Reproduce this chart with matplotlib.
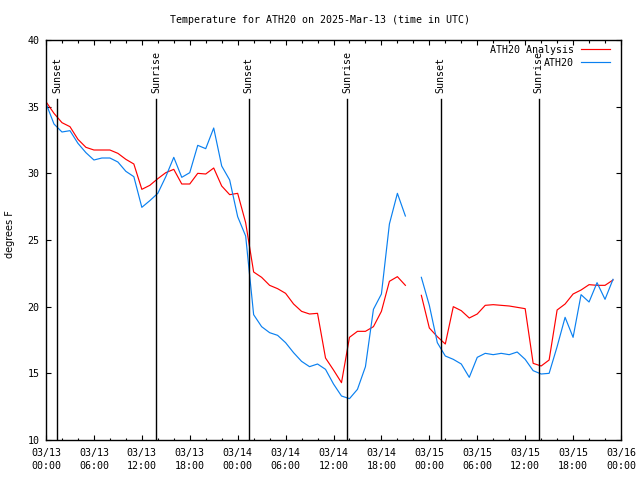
import numpy as np
import pandas as pd
import matplotlib
matplotlib.use("Agg")
import matplotlib.pyplot as plt
import matplotlib.dates as mdates

title = "Temperature for ATH20 on 2025-Mar-13 (time in UTC)"
ylabel = "degrees F"

times = pd.date_range("2025-03-13 00:00", periods=72, freq="h")

analysis = [35.37, 34.5, 33.8, 33.5, 32.55, 31.95, 31.75, 31.75, 31.75, 31.5,
            31.05, 30.7, 28.8, 29.1, 29.6, 30.05, 30.3, 29.2, 29.2, 30.0,
            29.95, 30.4, 29.05, 28.4, 28.5, 26.3, 22.6, 22.2, 21.6, 21.35,
            21.0, 20.2, 19.65, 19.45, 19.5, 16.15, 15.25, 14.3, 17.7, 18.15,
            18.15, 18.5, 19.65, 21.9, 22.25, 21.6, np.nan, 20.85, 18.4, 17.75,
            17.2, 20.0, 19.7, 19.15, 19.45, 20.1, 20.15, 20.1, 20.05, 19.95,
            19.85, 15.75, 15.55, 16.0, 19.75, 20.2, 20.95, 21.25, 21.65, 21.6,
            21.6, 22.0]

observed = [35.25, 33.7, 33.1, 33.2, 32.25, 31.55, 31.0, 31.15, 31.15, 30.85,
            30.15, 29.75, 27.45, 27.95, 28.5, 29.75, 31.2, 29.7, 30.05, 32.1,
            31.85, 33.4, 30.55, 29.5, 26.75, 25.3, 19.4, 18.5, 18.05, 17.85,
            17.3, 16.55, 15.9, 15.5, 15.7, 15.3, 14.2, 13.3, 13.1, 13.8,
            15.5, 19.8, 20.95, 26.2, 28.5, 26.8, np.nan, 22.2, 20.1, 17.3,
            16.3, 16.05, 15.7, 14.7, 16.2, 16.5, 16.4, 16.5, 16.4, 16.6,
            16.05, 15.2, 14.95, 15.0, 17.0, 19.2, 17.7, 20.9, 20.35, 21.8,
            20.55, 22.05]

sun_times = pd.to_datetime(["2025-03-13 01:25", "2025-03-13 13:48",
                            "2025-03-14 01:24", "2025-03-14 13:42",
                            "2025-03-15 01:24", "2025-03-15 13:42"])
sun_labels = ["Sunset", "Sunrise", "Sunset", "Sunrise", "Sunset", "Sunrise"]

series_labels = ["ATH20 Analysis", "ATH20"]
series_colors = ["#ff0000", "#0a80f0"]

mono = "DejaVu Sans Mono"
fs = 7.2

fig = plt.figure(figsize=(6.4, 4.8), dpi=100)
ax = fig.add_axes([46 / 640, 1 - 440 / 480, 575 / 640, 400 / 480])

ax.plot(times, analysis, color=series_colors[0], lw=0.85)
ax.plot(times, observed, color=series_colors[1], lw=0.85)

for t, lab in zip(sun_times, sun_labels):
    ax.plot([t, t], [10, 35.6], color="black", lw=1.0)
    ax.text(t, 36.05, lab, rotation=90, ha="center", va="bottom",
            fontsize=fs, family=mono)

ax.set_xlim(pd.Timestamp("2025-03-13 00:00"), pd.Timestamp("2025-03-16 00:00"))
ax.set_ylim(10, 40)
ax.set_yticks(range(10, 41, 5))
ax.xaxis.set_major_locator(mdates.HourLocator(byhour=range(0, 24, 6)))
ax.xaxis.set_minor_locator(mdates.HourLocator(byhour=range(0, 24, 2)))
ax.xaxis.set_major_formatter(mdates.DateFormatter("%m/%d\n%H:%M"))

ax.tick_params(axis="both", which="major", direction="in", length=3.6,
               width=0.8, top=True, right=True, labelsize=fs)
ax.tick_params(axis="x", which="minor", direction="in", length=1.8,
               width=0.8, top=True)
ax.tick_params(axis="x", which="major", pad=6)
ax.tick_params(axis="y", which="major", pad=4.5)
for lbl in ax.get_xticklabels() + ax.get_yticklabels():
    lbl.set_family(mono)
    lbl.set_linespacing(1.3)
for s in ax.spines.values():
    s.set_linewidth(1.0)

fig.text(0.5, 1 - 20 / 480, title, ha="center", va="center",
         fontsize=fs, family=mono)
fig.text(10 / 640, 1 - 234 / 480, ylabel, rotation=90, ha="center",
         va="center", fontsize=7)

# legend (manual, right-aligned text)
for i, (lab, col) in enumerate(zip(series_labels, series_colors)):
    py = 50 + 13 * i
    yy = (440 - py) / 400
    ax.text((574 - 46) / 575, yy, lab, ha="right", va="center",
            fontsize=fs, family=mono, transform=ax.transAxes)
    ax.plot([(581 - 46) / 575, (610 - 46) / 575], [yy + 0.002, yy + 0.002],
            color=col, lw=0.85, transform=ax.transAxes, clip_on=False)

fig.savefig("out.png", dpi=100)
